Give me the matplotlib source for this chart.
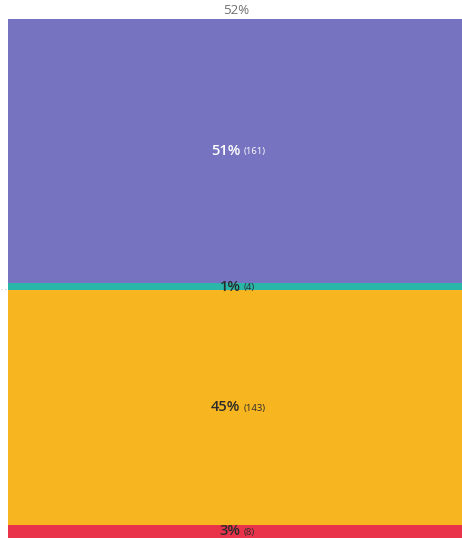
import matplotlib.pyplot as plt
import numpy as np

plt.rcParams["font.family"] = ["Open Sans", "DejaVu Sans"]

# segment data, top to bottom
segments = ["A", "B", "C", "D"]
counts = [161, 4, 143, 8]
percents = [51, 1, 45, 3]
colors = ["#7673c0", "#2ab7a9", "#f7b520", "#e8334a"]
text_colors = ["#ffffff", "#2b2b2b", "#2b2b2b", "#2b2b2b"]
top_label = "52%"

fig = plt.figure(figsize=(4.62, 5.38), dpi=100)
ax = fig.add_axes([8 / 462, 0, 1 - 8 / 462, (538 - 19) / 538])

total = sum(counts)
bottoms = np.concatenate([[0], np.cumsum(counts)[:-1]])
ax.bar(0, counts, bottom=bottoms, width=1, color=colors, linewidth=0)

ax.set_xlim(-0.5, 0.5)
ax.set_ylim(total, 0)
ax.axis("off")

for b, c, p, tc in zip(bottoms, counts, percents, text_colors):
    yc = b + c / 2
    ax.annotate(f"{p}%", (0, yc), xytext=(4, 0), textcoords="offset points",
                ha="right", va="center", fontsize=10.5, fontweight="semibold",
                color=tc)
    ax.annotate(f"({c})", (0, yc), xytext=(6, -0.5), textcoords="offset points",
                ha="left", va="center", fontsize=6.8, color=tc)

ax.annotate(top_label, (0, 0), xytext=(1, 6), textcoords="offset points",
            ha="center", va="center", fontsize=9.5, color="#707070",
            annotation_clip=False)

# small dotted tick left of the bar
fig.text(0.003, 1 - 290 / 538, "· ·", fontsize=5, color="#9a9a9a",
         ha="left", va="center")

fig.savefig("out.png", dpi=100)
